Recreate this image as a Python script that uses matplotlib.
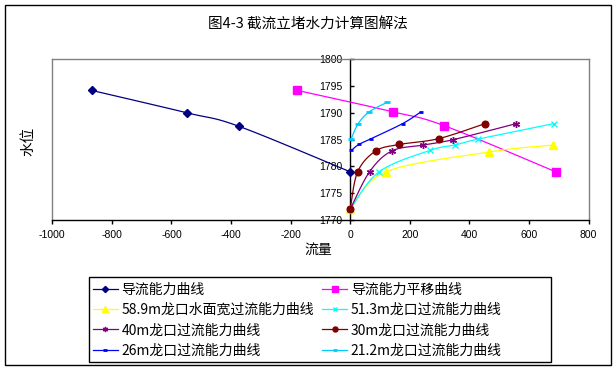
import numpy as np
import matplotlib
matplotlib.use("Agg")
import matplotlib.pyplot as plt
from matplotlib.lines import Line2D
from matplotlib.patches import Rectangle

plt.rcParams['axes.unicode_minus'] = False
CJK = ['Noto Sans CJK SC', 'DejaVu Sans']
TICKF = ['Liberation Sans', 'DejaVu Sans']

# ---- data ----
title = "图4-3 截流立堵水力计算图解法"
xlabel = "流量"
ylabel = "水位"
xticks = [-1000, -800, -600, -400, -200, 0, 200, 400, 600, 800]
yticks = [1770, 1775, 1780, 1785, 1790, 1795, 1800]

q_div = [-868, -547, -374, 0]
z_div = [1794.2, 1790.0, 1787.5, 1779.0]

q_shift = [-178, 143, 316, 690]
z_shift = [1794.2, 1790.2, 1787.6, 1779.0]

q_589 = [0, 120, 467, 680]
z_589 = [1772, 1779, 1782.7, 1784]

q_513 = [0, 97, 268, 352, 430, 684]
z_513 = [1772, 1779, 1783, 1784, 1785.1, 1788]

q_40 = [0, 65, 140, 246, 346, 558]
z_40 = [1772, 1779, 1782.9, 1784, 1785, 1788]

q_30 = [0, 25, 86, 165, 298, 453]
z_30 = [1772, 1779, 1782.9, 1784.1, 1785.2, 1788]

q_26 = [4, 29, 71, 176, 238]
z_26 = [1783, 1784.1, 1785.2, 1788, 1790.2]

q_212 = [3, 27, 64, 125]
z_212 = [1785.1, 1788, 1790.2, 1792]

names = ["导流能力曲线", "导流能力平移曲线", "58.9m龙口水面宽过流能力曲线",
         "51.3m龙口过流能力曲线", "40m龙口过流能力曲线", "30m龙口过流能力曲线",
         "26m龙口过流能力曲线", "21.2m龙口过流能力曲线"]


def smooth(x, y, n=30):
    P = np.column_stack([np.asarray(x, float), np.asarray(y, float)])
    m = len(P)
    out = [P[0]]
    t = np.linspace(0, 1, n)[1:, None]
    for i in range(m - 1):
        p0 = P[i - 1] if i > 0 else P[i]
        p1 = P[i]
        p2 = P[i + 1]
        p3 = P[i + 2] if i + 2 < m else P[i + 1]
        c1 = p1 + (p2 - p0) / 6
        c2 = p2 - (p3 - p1) / 6
        seg = ((1 - t) ** 3) * p1 + 3 * ((1 - t) ** 2) * t * c1 + 3 * (1 - t) * t ** 2 * c2 + t ** 3 * p2
        out.extend(seg)
    out = np.array(out)
    return out[:, 0], out[:, 1]


series = [
    (q_div, z_div, '#000080', dict(marker='D', ms=4.2, mec='#000080', mfc='#000080')),
    (q_shift, z_shift, '#FF00FF', dict(marker='s', ms=5.2, mec='#FF00FF', mfc='#FF00FF')),
    (q_589, z_589, '#FFFF00', dict(marker='^', ms=5.8, mec='#FFFF00', mfc='#FFFF00')),
    (q_513, z_513, '#00FFFF', dict(marker='x', ms=4.2, mec='#00FFFF', mew=1.0)),
    (q_40, z_40, '#800080', dict(marker=(6, 2, 0), ms=5, mec='#800080', mew=1.0)),
    (q_30, z_30, '#800000', dict(marker='o', ms=4.8, mec='#800000', mfc='#800000')),
    (q_26, z_26, '#0000FF', dict(marker='_', ms=3.2, mec='#0000FF', mew=2.0)),
    (q_212, z_212, '#00CCFF', dict(marker='_', ms=4.8, mec='#00CCFF', mew=2.0)),
]

fig = plt.figure(figsize=(6.16, 3.70), dpi=100)
fig.patch.set_facecolor('white')

# outer frame
fig.add_artist(Rectangle((5 / 616, 1 - 365 / 370), 606 / 616, 360 / 370,
                         transform=fig.transFigure, fill=False, ec='black', lw=1.0))

ax = fig.add_axes([52.3 / 616, 1 - 220 / 370, 536.2 / 616, 160.7 / 370])
ax.set_xlim(-1000, 800)
ax.set_ylim(1770, 1800)

handles = []
for i, (q, z, c, mk) in enumerate(series):
    xs, ys = smooth(q, z)
    ax.plot(xs, ys, color=c, lw=0.9, zorder=3 + i, solid_capstyle='butt')
    ax.plot(q, z, ls='none', zorder=3 + i, clip_on=False, **mk)
    lmk = dict(mk)
    lmk['ms'] = mk['ms'] * 0.75
    handles.append(Line2D([], [], color=c, lw=0.9, **lmk))

# spines
ax.spines['left'].set_position(('data', 0))
ax.spines['left'].set_color('black')
ax.spines['left'].set_linewidth(1.0)
ax.spines['bottom'].set_color('black')
ax.spines['bottom'].set_linewidth(1.0)
for s in ['top', 'right']:
    ax.spines[s].set_color('#808080')
    ax.spines[s].set_linewidth(1.0)
ax.plot([0, 0], [0, 1], transform=ax.transAxes, color='#808080', lw=1.0, clip_on=False, zorder=1)

ax.set_xticks(xticks)
ax.set_xticklabels([str(v) for v in xticks], fontfamily=TICKF, fontsize=7.5)
ax.set_yticks(yticks)
ax.set_yticklabels([str(v) for v in yticks], fontfamily=TICKF, fontsize=7.5)
ax.tick_params(axis='x', direction='out', length=3, width=1, pad=4, colors='black')
ax.tick_params(axis='y', direction='in', length=3, width=1, pad=5.5, colors='black')
for lab in ax.get_yticklabels():
    lab.set_zorder(20)

fig.text(308 / 616, 1 - 25 / 370, title, ha='center', va='center', fontsize=10.5, family=CJK)
fig.text(318 / 616, 1 - 250 / 370, xlabel, ha='center', va='center', fontsize=10, family=CJK)
fig.text(28 / 616, 1 - 141 / 370, ylabel, ha='center', va='center', fontsize=10.5, family=CJK, rotation=90)

# legend
fig.add_artist(Rectangle((89 / 616, 1 - 362 / 370), 462 / 616, 85 / 370,
                         transform=fig.transFigure, fill=False, ec='black', lw=1.0))
order = [0, 2, 4, 6, 1, 3, 5, 7]
leg = fig.legend([handles[k] for k in order], [names[k] for k in order],
                 ncol=2, loc='upper left', bbox_to_anchor=(90 / 616, 1 - 280 / 370),
                 frameon=False, prop={'family': CJK, 'size': 10},
                 handlelength=1.8, handletextpad=0.25, columnspacing=0.6,
                 labelspacing=0.45, borderpad=0.2, borderaxespad=0)

fig.savefig('out.png', dpi=100, facecolor='white')
